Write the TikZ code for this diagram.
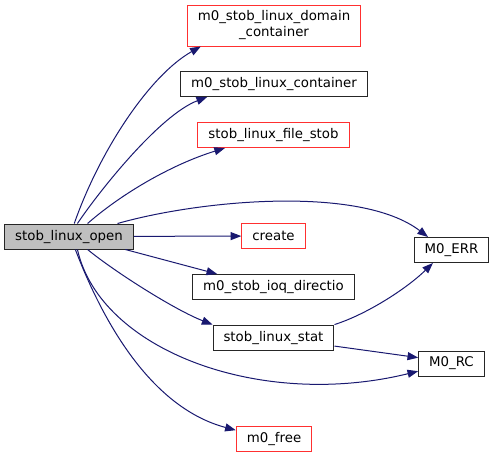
\documentclass[tikz,border=0pt]{standalone}
\usepackage{fontspec}
\setmainfont{DejaVu Sans}
\usepackage{xcolor}
\usetikzlibrary{arrows.meta}
\definecolor{edgeblue}{HTML}{191970}
\definecolor{startgray}{HTML}{BFBFBF}
\definecolor{boxred}{HTML}{FF3030}

\begin{document}
\begin{tikzpicture}[x=0.75pt,y=-0.75pt,line width=0.75pt,
        fn/.style={draw=black!85,rectangle,inner xsep=7.9pt,inner ysep=0pt,minimum height=18.75pt,font=\fontsize{10}{12}\selectfont},
        fnred/.style={fn,draw=boxred},
        call/.style={draw=edgeblue,-{Triangle[length=8pt,width=6pt]}}]
        \useasboundingbox (0,0) rectangle (495,458);
        \node[fn,fill=startgray] (open) at (69,236.5) {stob\_linux\_open};
        \node[fnred,align=center,minimum height=30.75pt] (dom) at (274,25.5) {m0\_stob\_linux\_domain\\\_container};
        \node[fn] (cont) at (274,84) {m0\_stob\_linux\_container};
        \node[fnred] (file) at (273.5,135) {stob\_linux\_file\_stob};
        \node[fnred] (create) at (273.5,236) {create};
        \node[fn] (err) at (451.5,250) {M0\_ERR};
        \node[fn] (ioq) at (273.5,287) {m0\_stob\_ioq\_directio};
        \node[fn] (stat) at (273.5,337.5) {stob\_linux\_stat};
        \node[fn] (rc) at (451.5,363.5) {M0\_RC};
        \node[fnred] (free) at (274,439) {m0\_free};
        \draw[call] (open.68) .. controls (100,150) and (150,75) .. (dom.196);
        \draw[call] (open.57) .. controls (100,190) and (160,115) .. (cont.191);
        \draw[call] (open.35) .. controls (120,195) and (170,165) .. (file.195);
        \draw[call] (open.15) .. controls (200,200) and (360,185) .. (err.151);
        \draw[call] (open) -- (create);
        \draw[call] (open.-13) -- (ioq.167);
        \draw[call] (open.-35) .. controls (115,272) and (175,310) .. (stat.168);
        \draw[call] (open.-57) .. controls (100,350) and (260,410) .. (rc.193);
        \draw[call] (open.-64) .. controls (110,340) and (160,410) .. (free.167);
        \draw[call] (stat.12) .. controls (365,315) and (405,290) .. (err.215);
        \draw[call] (stat.-8) -- (rc.170);
\end{tikzpicture}
\end{document}
